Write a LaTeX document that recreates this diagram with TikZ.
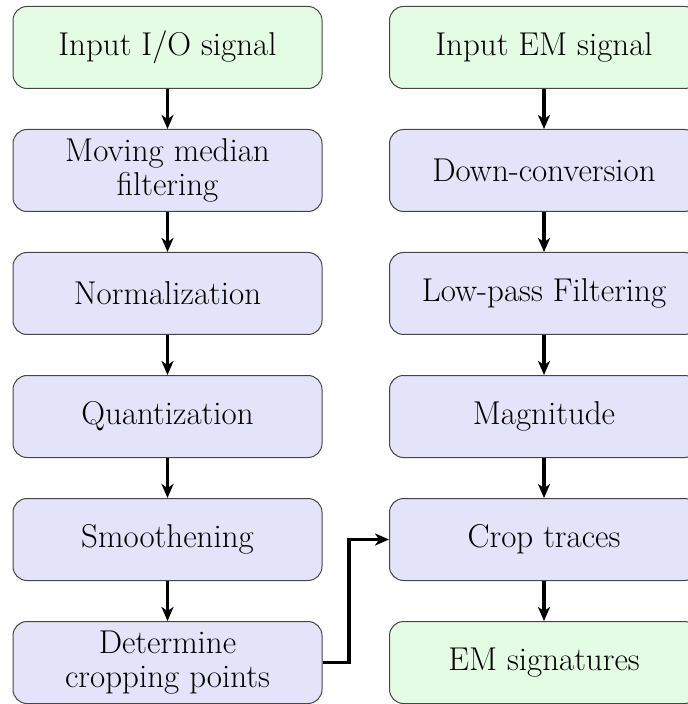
\documentclass[tikz,border=0pt]{standalone}
\usetikzlibrary{arrows.meta}
\definecolor{boxgreen}{RGB}{227,252,227}
\definecolor{boxblue}{RGB}{227,227,250}
\definecolor{boxline}{RGB}{70,70,70}
\begin{document}
\begin{tikzpicture}[x=1pt,y=1pt,
  box/.style={draw=boxline, line width=0.5pt, rounded corners=7pt, minimum width=154.5pt, minimum height=41pt, align=center, inner sep=2pt, font=\fontsize{16.5}{17}\selectfont},
  gbox/.style={box, fill=boxgreen},
  bbox/.style={box, fill=boxblue},
  conn/.style={-{Stealth[length=7pt,width=6pt,inset=2pt]}, line width=1.6pt}]
\clip (0,0) rectangle (344,-352);
\useasboundingbox (0,0) rectangle (344,-352);
\node[gbox] (a1) at (83.75,-23.75) {Input I/O signal};
\node[bbox] (a2) at (83.75,-85.25) {Moving median\\filtering};
\node[bbox] (a3) at (83.75,-146.75) {Normalization};
\node[bbox] (a4) at (83.75,-208.25) {Quantization};
\node[bbox] (a5) at (83.75,-269.75) {Smoothening};
\node[bbox] (a6) at (83.75,-331.25) {Determine\\cropping points};
\node[gbox] (b1) at (272,-23.75) {Input EM signal};
\node[bbox] (b2) at (272,-85.25) {Down-conversion};
\node[bbox] (b3) at (272,-146.75) {Low-pass Filtering};
\node[bbox] (b4) at (272,-208.25) {Magnitude};
\node[bbox] (b5) at (272,-269.75) {Crop traces};
\node[gbox] (b6) at (272,-331.25) {EM signatures};
\draw[conn] (a1) -- (a2);
\draw[conn] (a2) -- (a3);
\draw[conn] (a3) -- (a4);
\draw[conn] (a4) -- (a5);
\draw[conn] (a5) -- (a6);
\draw[conn] (b1) -- (b2);
\draw[conn] (b2) -- (b3);
\draw[conn] (b3) -- (b4);
\draw[conn] (b4) -- (b5);
\draw[conn] (b5) -- (b6);
\coordinate (k1) at (174.5,-331.25);
\coordinate (k2) at (174.5,-269.75);
\draw[conn] (a6.east) -- (k1) -- (k2) -- (b5.west);
\end{tikzpicture}
\end{document}
